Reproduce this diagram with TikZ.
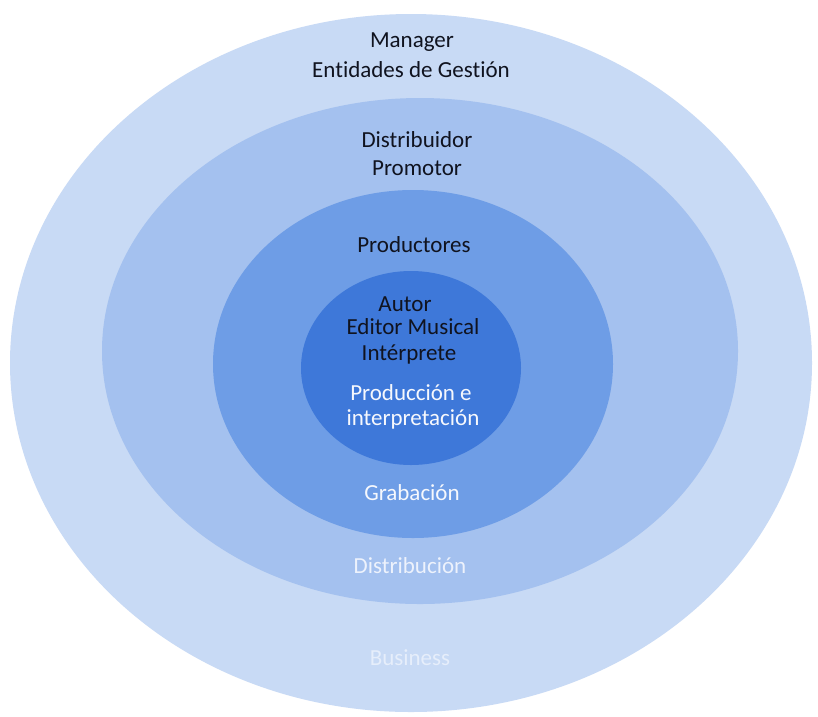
\documentclass[tikz,border=0pt]{standalone}
\usepackage{fontspec}
\setmainfont[Ligatures=NoCommon]{Carlito}
\definecolor{ringA}{HTML}{C8DAF5}
\definecolor{ringB}{HTML}{A4C1EF}
\definecolor{ringC}{HTML}{6E9DE6}
\definecolor{ringD}{HTML}{3E78D9}
\definecolor{darktxt}{HTML}{10131F}
\definecolor{lighttxt}{HTML}{F6F8FD}
\definecolor{paletxt}{HTML}{EDF2FC}
\definecolor{faintxt}{HTML}{E6EEFB}
\begin{document}
\begin{tikzpicture}[x=1pt,y=-1pt,
  lbl/.style={inner sep=0pt, font=\fontsize{23}{27}\selectfont, anchor=center},
  dark/.style={lbl, text=darktxt},
  light/.style={lbl, text=lighttxt}]
\useasboundingbox (0,0) rectangle (818,716);
\fill[white] (0,0) rectangle (818,716);
% nested rings, outermost first
\fill[ringA] (411,363) ellipse [x radius=401, y radius=349];
\fill[ringB] (420,351) ellipse [x radius=318, y radius=253];
\fill[ringC] (413,364) ellipse [x radius=200, y radius=174];
\fill[ringD] (411,368) ellipse [x radius=110, y radius=97];
% actors of each ring
\node[dark] (manager) at (412,42) {Manager};
\node[dark] (entidades) at (411,70) {Entidades de Gestión};
\node[dark] (distribuidor) at (417,140) {Distribuidor};
\node[dark] (promotor) at (417,168) {Promotor};
\node[dark] (productores) at (414,245) {Productores};
\node[dark] (autor) at (405,304) {Autor};
\node[dark] (editor) at (413,327) {Editor Musical};
\node[dark] (interprete) at (409,354) {Intérprete};
% stage of each ring
\node[light] (produccion) at (411,393) {Producción e};
\node[light] (interpretacion) at (413,419) {interpretación};
\node[light] (grabacion) at (412,493) {Grabación};
\node[lbl, text=paletxt] (distribucion) at (410,566) {Distribución};
\node[lbl, text=faintxt] (business) at (410,658) {Business};
\end{tikzpicture}
\end{document}
